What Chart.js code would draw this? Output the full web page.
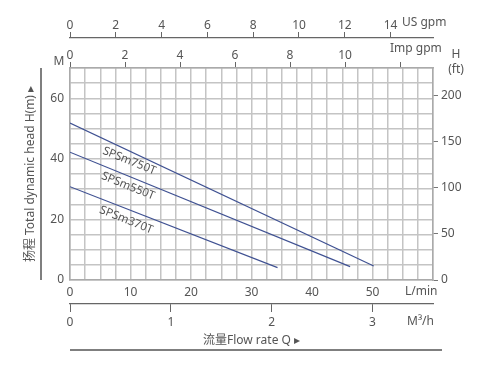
<!DOCTYPE html>
<html>
<head>
<meta charset="utf-8">
<script src="https://cdn.jsdelivr.net/npm/chart.js@4"></script>
<style>
  html, body { margin: 0; padding: 0; background: #fff; }
  #wrap { width: 484px; height: 376px; }
</style>
</head>
<body>
<div id="wrap"><canvas id="chart-pump"></canvas></div>
<script>
// pump curves: flow in L/min, head in m
const models = ["SPSm750T", "SPSm550T", "SPSm370T"];
const flow750 = [0, 50.2];
const head750 = [51.8, 4.6];
const flow550 = [0, 46.3];
const head550 = [42.2, 4.4];
const flow370 = [0, 34.3];
const head370 = [30.8, 4.1];
// where the model names sit (L/min, m)
const labelFlow = [9.8, 9.6, 9.3];
const labelHead = [39.3, 31.0, 19.8];

const FONT = '"Noto Sans", "Noto Sans CJK SC", sans-serif';
const TXT = "#555";
const GRID = "#c4c4c4";

function pts(xs, ys) {
  return xs.map((x, i) => ({ x: x, y: ys[i] }));
}
function fixH(h) { return (s) => { s.height = h; }; }
function fixW(w) { return (s) => { s.width = w; }; }

const extras = {
  id: "extras",
  afterDraw(chart) {
    const { ctx, chartArea: a, scales } = chart;
    ctx.save();
    ctx.fillStyle = TXT;
    ctx.font = "12px " + FONT;
    ctx.textBaseline = "middle";
    ctx.textAlign = "left";
    ctx.fillText("US gpm", a.right - 31, 23);
    ctx.fillText("Imp gpm", a.right - 43, 49);
    ctx.fillText("L/min", a.right - 28, 292);
    ctx.fillText("M³/h", a.right - 26, 322);
    ctx.textAlign = "center";
    ctx.fillText("M", 59, 62);
    ctx.fillText("H", 456, 55);
    ctx.fillText("(ft)", 456, 70);

    // side rules
    ctx.strokeStyle = "#555";
    ctx.lineWidth = 1.5;
    ctx.beginPath();
    ctx.moveTo(41, a.top);
    ctx.lineTo(41, a.bottom);
    ctx.moveTo(a.left, 350);
    ctx.lineTo(a.right + 9, 350);
    ctx.stroke();

    // model names along the curves
    ctx.font = "11.5px " + FONT;
    models.forEach((m, i) => {
      const px = scales.x.getPixelForValue(labelFlow[i]);
      const py = scales.y.getPixelForValue(labelHead[i]);
      ctx.save();
      ctx.translate(px, py);
      ctx.rotate(22 * Math.PI / 180);
      ctx.fillText(m, 0, 0);
      ctx.restore();
    });
    ctx.restore();
  }
};

document.addEventListener("DOMContentLoaded", function () {
  const ctx = document.getElementById("chart-pump").getContext("2d");
  const lineStyle = {
    borderColor: "#3f5192",
    borderWidth: 1.2,
    pointRadius: 0,
    fill: false,
    tension: 0,
    xAxisID: "x",
    yAxisID: "y",
  };

  new Chart(ctx, {
    type: "line",
    data: {
      datasets: [
        { label: models[0], data: pts(flow750, head750), ...lineStyle },
        { label: models[1], data: pts(flow550, head550), ...lineStyle },
        { label: models[2], data: pts(flow370, head370), ...lineStyle },
      ],
    },
    options: {
      responsive: true,
      maintainAspectRatio: false,
      animation: false,
      layout: { padding: { top: 0, bottom: 26, left: 0, right: 0 } },
      plugins: {
        legend: { display: false },
        tooltip: { enabled: false },
      },
      scales: {
        x: {
          type: "linear",
          position: "bottom",
          weight: 0,
          min: 0,
          max: 60,
          afterFit: fixH(24),
          ticks: {
            stepSize: 2.5,
            autoSkip: false,
            maxRotation: 0,
            padding: 5,
            color: TXT,
            font: { family: FONT, size: 12 },
            callback: (v) => (v % 10 === 0 && v < 60 ? v : ""),
          },
          grid: { color: GRID, lineWidth: 1.5, drawTicks: false },
          border: { color: "#aaa", width: 1.5 },
        },
        m3: {
          type: "linear",
          position: "bottom",
          weight: 1,
          min: 0,
          max: 3.6,
          afterFit: fixH(46),
          ticks: {
            stepSize: 1,
            includeBounds: false,
            maxRotation: 0,
            padding: 3,
            color: TXT,
            font: { family: FONT, size: 12 },
          },
          grid: { drawOnChartArea: false, tickLength: 8, color: "#666" },
          border: { color: "#666", width: 1.2 },
          title: {
            display: true,
            text: "流量Flow rate Q ▸",
            color: TXT,
            font: { family: FONT, size: 12 },
            padding: { top: 0, bottom: 2 },
          },
        },
        imp: {
          type: "linear",
          position: "top",
          weight: 0,
          min: 0,
          max: 60 / 4.546,
          afterFit: fixH(30),
          ticks: {
            stepSize: 2,
            includeBounds: false,
            maxRotation: 0,
            padding: -1,
            color: TXT,
            font: { family: FONT, size: 12 },
            callback: (v) => (v <= 10 ? v : ""),
          },
          grid: { drawOnChartArea: false, tickLength: 6, color: "#666" },
          border: { color: "#aaa", width: 1.5 },
        },
        us: {
          type: "linear",
          position: "top",
          weight: 1,
          min: 0,
          max: 60 / 3.785,
          afterFit: fixH(38),
          ticks: {
            stepSize: 2,
            includeBounds: false,
            maxRotation: 0,
            padding: -1,
            color: TXT,
            font: { family: FONT, size: 12 },
          },
          grid: { drawOnChartArea: false, tickLength: 6, color: "#666" },
          border: { color: "#666", width: 1.2 },
        },
        y: {
          type: "linear",
          position: "left",
          min: 0,
          max: 70,
          afterFit: fixW(70),
          ticks: {
            stepSize: 5,
            autoSkip: false,
            padding: 6,
            color: TXT,
            font: { family: FONT, size: 12 },
            callback: (v) => (v % 20 === 0 ? v : ""),
          },
          grid: { color: GRID, lineWidth: 1.5, drawTicks: false },
          border: { color: "#aaa", width: 1.5 },
          title: {
            display: true,
            text: "扬程 Total dynamic head H(m) ▸",
            color: TXT,
            font: { family: FONT, size: 12 },
            padding: { top: 23, bottom: 0 },
          },
        },
        ft: {
          type: "linear",
          position: "right",
          min: 0,
          max: 70 * 3.28084,
          afterFit: fixW(51),
          ticks: {
            stepSize: 50,
            includeBounds: false,
            padding: 3,
            color: TXT,
            font: { family: FONT, size: 12 },
          },
          grid: { drawOnChartArea: false, tickLength: 5, color: "#777" },
          border: { color: "#aaa", width: 1.5 },
        },
      },
    },
    plugins: [extras],
  });
});
</script>
</body>
</html>
